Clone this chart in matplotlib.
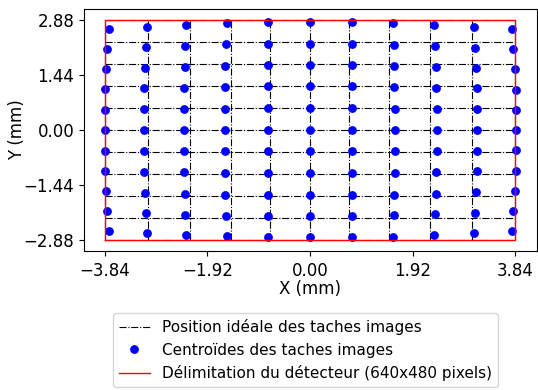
import matplotlib
matplotlib.use("Agg")
import matplotlib.pyplot as plt
from matplotlib.lines import Line2D

# ideal grid of image spots (mm)
ideal_x = [-3.84, -3.03, -2.25, -1.48, -0.74, 0.0, 0.74, 1.48, 2.25, 3.03, 3.84]
ideal_y = [-2.88, -2.30, -1.73, -1.15, -0.58, 0.0, 0.58, 1.15, 1.73, 2.30, 2.88]

# detector outline (640x480 pixels)
det_x = [-3.84, 3.84, 3.84, -3.84, -3.84]
det_y = [-2.88, -2.88, 2.88, 2.88, -2.88]

# measured centroids, one list per row (top to bottom)
centroid_x = [
    [-3.76, -3.05, -2.31, -1.55, -0.78, 0.00, 0.79, 1.55, 2.32, 3.06, 3.77],
    [-3.79, -3.07, -2.33, -1.56, -0.78, 0.00, 0.79, 1.57, 2.34, 3.08, 3.80],
    [-3.82, -3.09, -2.34, -1.58, -0.78, 0.00, 0.79, 1.58, 2.36, 3.10, 3.83],
    [-3.84, -3.11, -2.35, -1.59, -0.78, 0.00, 0.79, 1.58, 2.36, 3.12, 3.85],
    [-3.84, -3.11, -2.36, -1.59, -0.78, 0.00, 0.79, 1.59, 2.37, 3.13, 3.85],
    [-3.84, -3.11, -2.36, -1.59, -0.78, 0.00, 0.79, 1.60, 2.37, 3.13, 3.86],
    [-3.84, -3.11, -2.36, -1.59, -0.78, 0.00, 0.79, 1.60, 2.37, 3.13, 3.86],
    [-3.84, -3.11, -2.35, -1.59, -0.78, 0.00, 0.79, 1.59, 2.36, 3.12, 3.85],
    [-3.82, -3.09, -2.34, -1.58, -0.78, 0.00, 0.79, 1.58, 2.36, 3.10, 3.83],
    [-3.79, -3.07, -2.33, -1.56, -0.78, 0.00, 0.79, 1.57, 2.34, 3.08, 3.80],
    [-3.76, -3.05, -2.31, -1.55, -0.78, 0.00, 0.79, 1.55, 2.32, 3.06, 3.77],
]
centroid_y = [
    [2.64, 2.70, 2.75, 2.80, 2.82, 2.82, 2.82, 2.80, 2.75, 2.69, 2.64],
    [2.12, 2.17, 2.21, 2.24, 2.26, 2.26, 2.26, 2.23, 2.20, 2.16, 2.12],
    [1.60, 1.63, 1.66, 1.68, 1.69, 1.69, 1.69, 1.68, 1.65, 1.63, 1.59],
    [1.07, 1.10, 1.11, 1.13, 1.14, 1.14, 1.14, 1.13, 1.11, 1.10, 1.06],
    [0.53, 0.55, 0.55, 0.56, 0.57, 0.57, 0.57, 0.55, 0.55, 0.54, 0.53],
    [0.00, 0.00, 0.00, 0.00, 0.00, 0.00, 0.00, 0.00, 0.00, 0.00, 0.00],
    [-0.54, -0.55, -0.55, -0.56, -0.56, -0.56, -0.56, -0.55, -0.55, -0.54, -0.53],
    [-1.06, -1.10, -1.11, -1.13, -1.13, -1.13, -1.13, -1.13, -1.11, -1.08, -1.06],
    [-1.59, -1.64, -1.66, -1.69, -1.70, -1.70, -1.70, -1.69, -1.66, -1.63, -1.59],
    [-2.12, -2.17, -2.21, -2.24, -2.25, -2.25, -2.25, -2.23, -2.20, -2.17, -2.11],
    [-2.64, -2.70, -2.75, -2.78, -2.81, -2.81, -2.81, -2.79, -2.75, -2.70, -2.64],
]

xticks = [-3.84, -1.92, 0.0, 1.92, 3.84]
yticks = [-2.88, -1.44, 0.0, 1.44, 2.88]


def fmt(v):
    return f"{v:.2f}".replace("-", "\u2212")


fig = plt.figure(figsize=(5.38, 3.9), dpi=100)
ax = fig.add_axes([0.156, 0.356, 0.842, 0.621])

for x in ideal_x:
    ax.plot([x, x], [ideal_y[0], ideal_y[-1]], color="k", ls="-.", lw=0.8)
for y in ideal_y:
    ax.plot([ideal_x[0], ideal_x[-1]], [y, y], color="k", ls="-.", lw=0.8)

for xs, ys in zip(centroid_x, centroid_y):
    ax.plot(xs, ys, "o", color="blue", ms=5.3, ls="none")

ax.plot(det_x, det_y, color="red", lw=1)

ax.set_xticks(xticks)
ax.set_yticks(yticks)
ax.set_xticklabels([fmt(v) for v in xticks], fontsize=12)
ax.set_yticklabels([fmt(v) for v in yticks], fontsize=12)
ax.tick_params(axis="x", pad=4.5)
ax.set_xlabel("X (mm)", fontsize=12, labelpad=0)
ax.set_ylabel("Y (mm)", fontsize=12, labelpad=-2)

handles = [
    Line2D([], [], color="k", ls="-.", lw=0.8),
    Line2D([], [], color="blue", marker="o", ms=5.3, ls="none"),
    Line2D([], [], color="red", lw=1),
]
labels = [
    "Position idéale des taches images",
    "Centroïdes des taches images",
    "Délimitation du détecteur (640x480 pixels)",
]
ax.legend(handles, labels, loc="upper center", bbox_to_anchor=(0.489, -0.223), fontsize=11)

fig.savefig("out.png", dpi=100)
